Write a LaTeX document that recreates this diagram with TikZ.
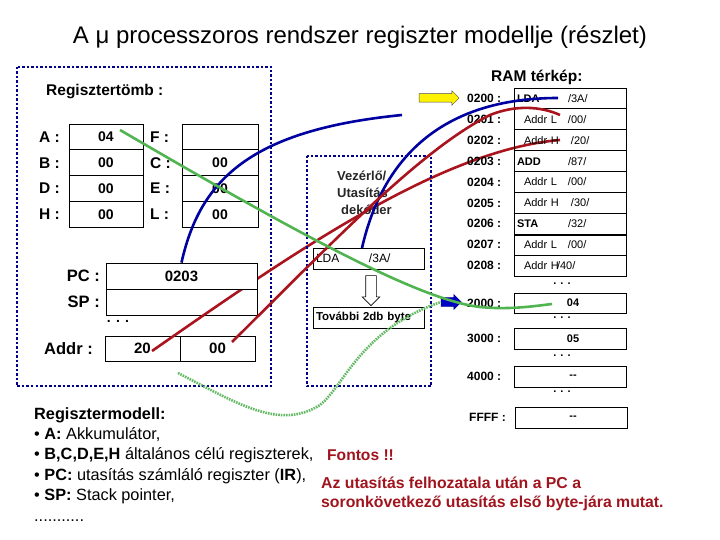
\documentclass[tikz,border=0pt]{standalone}
\usepackage{fontspec}
\setmainfont{Liberation Sans}
\usetikzlibrary{shapes.arrows}
\definecolor{navyd}{RGB}{0,0,140}
\definecolor{curveblue}{RGB}{0,0,160}
\definecolor{curvered}{RGB}{170,20,30}
\definecolor{curvegreen}{RGB}{80,180,80}
\definecolor{dotgreen}{RGB}{100,185,100}
\definecolor{txtred}{RGB}{160,20,30}
\definecolor{arrblue}{RGB}{0,0,200}
\newcommand{\fs}[1]{\fontsize{#1}{#1}\selectfont}
\begin{document}
\begin{tikzpicture}[x=1pt,y=-1pt,
 cell/.style={draw=black, line width=0.8pt, inner sep=0pt, minimum height=25.75pt, font=\fs{14}\bfseries},
 reglbl/.style={anchor=west, font=\fs{15.5}\bfseries, inner sep=0pt},
 ramcell/.style={draw=black, line width=0.8pt, minimum width=112pt, minimum height=20.9pt, inner xsep=3pt, inner ysep=0pt, text width=106pt, align=left, font=\fs{11}},
 valcell/.style={draw=black, line width=0.8pt, minimum width=112pt, inner sep=0pt, font=\fs{11}\bfseries},
 addrlbl/.style={anchor=west, font=\fs{12}\bfseries, inner sep=0pt},
 dotsty/.style={font=\fs{11}\bfseries, inner sep=0pt},
 dotbox/.style={draw=navyd, line width=2.5pt, dash pattern=on 2.5pt off 2pt},
 curve/.style={line width=2.6pt},
 boxtxt/.style={draw=black, line width=0.8pt, minimum width=111pt, minimum height=21pt, inner xsep=3pt, inner ysep=0pt, text width=105pt, align=left}
]
\useasboundingbox (0,0) rectangle (720,540);

% title
\node[font=\fs{24}] (title) at (360,37) {A μ processzoros rendszer regiszter modellje (részlet)};

% left dotted box
\draw[dotbox] (17,67) rectangle (271,386);
\node[anchor=west, font=\fs{15.5}\bfseries, inner sep=0pt] (rt) at (46,92) {Regisztertömb :};

% register file
\node[cell, minimum width=74pt] (rA) at (106,137) {04};
\node[cell, minimum width=74pt] (rB) at (106,162.75) {00};
\node[cell, minimum width=74pt] (rD) at (106,188.5) {00};
\node[cell, minimum width=74pt] (rH) at (106,214.25) {00};
\node[cell, minimum width=76pt] (rF) at (220,137) {};
\node[cell, minimum width=76pt] (rC) at (220,162.75) {00};
\node[cell, minimum width=76pt] (rE) at (220,188.5) {00};
\node[cell, minimum width=76pt] (rL) at (220,214.25) {00};
\node[reglbl] (lA) at (39,137) {A :};
\node[reglbl] (lB) at (39,162.75) {B :};
\node[reglbl] (lD) at (39,188.5) {D :};
\node[reglbl] (lH) at (39,214.25) {H :};
\node[reglbl] (lF) at (150,137) {F :};
\node[reglbl] (lC) at (150,162.75) {C :};
\node[reglbl] (lE) at (150,188.5) {E :};
\node[reglbl] (lL) at (150,214.25) {L :};

% PC / SP / Addr
\node[cell, minimum width=151pt, minimum height=26pt, font=\fs{15}\bfseries] (SP) at (181.5,302) {};
\node[anchor=east, font=\fs{16.5}\bfseries, inner sep=0pt] (lPC) at (100,276) {PC :};
\node[anchor=east, font=\fs{16.5}\bfseries, inner sep=0pt] (lSP) at (100,302) {SP :};
\node[font=\fs{14}\bfseries, inner sep=0pt] (ldots) at (118,321) {. . .};
\node[cell, minimum width=75pt, minimum height=25pt, font=\fs{15}\bfseries] (ah) at (142.5,348.5) {20};
\node[cell, minimum width=75pt, minimum height=25pt, font=\fs{15}\bfseries] (al) at (217.5,348.5) {00};
\node[anchor=east, font=\fs{16.5}\bfseries, inner sep=0pt] (lAddr) at (93,349) {Addr :};

\coordinate (c20) at (152,351);
\coordinate (c00) at (232,342);
\coordinate (rAend) at (560,140);
\draw[curve, curvered] (c20) .. controls (290,255) and (440,150) .. (rAend);

\node[cell, minimum width=151pt, minimum height=26pt, font=\fs{15}\bfseries, fill=white] (PC) at (181.5,276) {0203};

% middle dotted box
\draw[dotbox] (307,156) rectangle (431,386);
\node[anchor=north west, align=left, font=\fontsize{13}{17}\selectfont\bfseries, text=black!85, inner sep=0pt] (vez) at (337,171) {Vezérlő/\\Utasítás\\\hspace{4pt}dekóder};
\node[boxtxt, font=\fs{12}] (lda) at (368.5,258.5) {\makebox[53pt][l]{LDA}/3A/};
\node[single arrow, draw=black, line width=0.6pt, fill=white, shape border rotate=270, minimum height=30pt, inner sep=5pt, single arrow head extend=3.5pt] (harr) at (371,288) {};
\node[boxtxt, font=\fs{11.5}\bfseries] (tov) at (368.5,317.5) {További 2db byte};

% arrows
\node[single arrow, draw=black!70, line width=0.5pt, fill=yellow, minimum height=40pt, inner sep=4pt, single arrow head extend=3pt] (yarr) at (437,98) {};
\node[single arrow, draw=navyd, line width=0.6pt, fill=arrblue, minimum height=20pt, inner sep=4pt, single arrow head extend=3pt] (barr) at (449,302) {};

% RAM map
\node[anchor=west, font=\fs{15.5}\bfseries, inner sep=0pt] (ramt) at (491,77) {RAM térkép:};
\node[ramcell] (r0) at (570,98.45) {\makebox[51pt][l]{\textbf{LDA}}/3A/};
\node[ramcell] (r1) at (570,119.35) {\makebox[51pt][l]{\hspace{7pt}Addr L}/00/};
\node[ramcell] (r2) at (570,140.25) {\makebox[54pt][l]{\hspace{7pt}Addr H}/20/};
\node[ramcell] (r3) at (570,161.15) {\makebox[51pt][l]{\textbf{ADD}}/87/};
\node[ramcell] (r4) at (570,182.05) {\makebox[51pt][l]{\hspace{7pt}Addr L}/00/};
\node[ramcell] (r5) at (570,202.95) {\makebox[54pt][l]{\hspace{7pt}Addr H}/30/};
\node[ramcell] (r6) at (570,223.85) {\makebox[51pt][l]{\textbf{STA}}/32/};
\node[ramcell] (r7) at (570,244.75) {\makebox[51pt][l]{\hspace{7pt}Addr L}/00/};
\node[ramcell] (r8) at (570,265.65) {\makebox[40pt][l]{\hspace{7pt}Addr H}/40/};
\draw[line width=1.6pt] (r6.south west) -- (r6.south east);
\node[addrlbl] (a0) at (467,98.45) {0200 :};
\node[addrlbl] (a1) at (467,119.35) {0201 :};
\node[addrlbl] (a2) at (467,140.25) {0202 :};
\node[addrlbl] (a3) at (467,161.15) {0203 :};
\node[addrlbl] (a4) at (467,182.05) {0204 :};
\node[addrlbl] (a5) at (467,202.95) {0205 :};
\node[addrlbl] (a6) at (467,223.85) {0206 :};
\node[addrlbl] (a7) at (467,244.75) {0207 :};
\node[addrlbl] (a8) at (467,265.65) {0208 :};
\node[dotsty] (d1) at (562,284) {. . .};
\node[valcell, minimum height=20pt] (m2000) at (570,303) {\hspace{6pt}04};
\node[addrlbl] (a2000) at (467,303) {2000 :};
\node[dotsty] (d2) at (562,318) {. . .};
\node[valcell, minimum height=21pt] (m3000) at (570,338.5) {\hspace{6pt}05};
\node[addrlbl] (a3000) at (467,338.5) {3000 :};
\node[dotsty] (d3) at (562,356) {. . .};
\node[valcell, minimum height=21pt] (m4000) at (570,376.5) {\hspace{6pt}{-}{-}};
\node[addrlbl] (a4000) at (467,376.5) {4000 :};
\node[dotsty] (d4) at (562,392) {. . .};
\node[valcell, minimum height=21pt] (mFFFF) at (571,417.5) {\hspace{4pt}{-}{-}};
\node[addrlbl] (aFFFF) at (469,417.5) {FFFF :};

% curves
\coordinate (b1end) at (402,115);
\coordinate (b2s) at (362,248);
\coordinate (b2end) at (558,98);
\coordinate (g04) at (120,130);
\coordinate (g2000) at (552,304);
\coordinate (rBend) at (560,115);
\coordinate (gd1) at (178,373);
\draw[curve, curveblue] (PC.north) .. controls (200,180) and (250,130) .. (b1end);
\draw[curve, curveblue] (b2s) .. controls (382,160) and (440,98) .. (b2end);
\draw[curve, curvered] (c00) .. controls (330,245) and (420,150) .. (490,115) .. controls (515,105) and (540,106) .. (rBend);
\draw[curve, curvegreen] (g04) .. controls (300,235) and (420,300) .. (480,307) .. controls (510,310) and (535,306) .. (g2000);
\draw[line width=2.6pt, dotgreen, dash pattern=on 1.6pt off 1pt] (gd1) .. controls (240,405) and (280,430) .. (320,405) .. controls (345,385) and (360,330) .. (barr.west);

% bottom texts
\node[anchor=north west, align=left, font=\fontsize{16.3}{20.4}\selectfont, inner sep=0pt] (model) at (34,407) {\textbf{Regisztermodell:}\\
• \textbf{A:} Akkumulátor,\\
• \textbf{B,C,D,E,H} általános célú regiszterek,\\
• \textbf{PC:} utasítás számláló regiszter (\textbf{IR}),\\
• \textbf{SP:} Stack pointer,\\
...........};
\node[anchor=west, font=\fs{15.6}\bfseries, text=txtred, inner sep=0pt] (fontos) at (327,455) {Fontos !!};
\node[anchor=north west, align=left, font=\fontsize{15.8}{19.2}\selectfont\bfseries, text=txtred, inner sep=0pt] (note) at (321,477) {Az utasítás felhozatala után a PC a\\soronkövetkező utasítás első byte-jára mutat.};
\end{tikzpicture}
\end{document}
